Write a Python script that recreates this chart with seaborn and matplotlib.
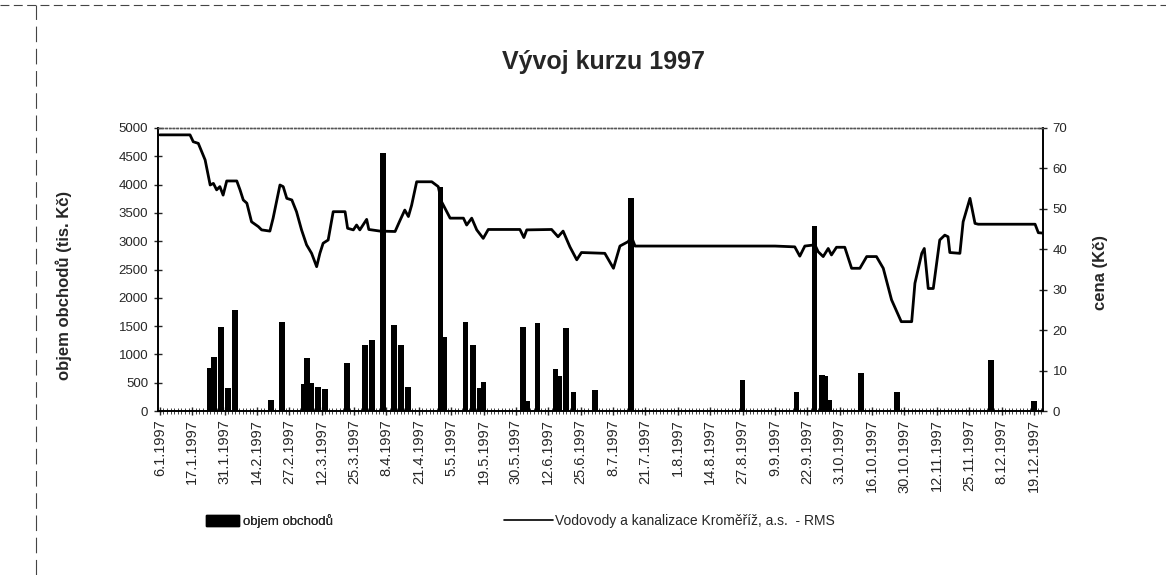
import numpy as np
import pandas as pd
import matplotlib
matplotlib.use("Agg")
import matplotlib.pyplot as plt
from matplotlib.lines import Line2D
from matplotlib.patches import Patch
import seaborn as sns

# x axis = trading days of 1997, every 9th day is labelled
date_labels = ["6.1.1997", "17.1.1997", "31.1.1997", "14.2.1997", "27.2.1997",
               "12.3.1997", "25.3.1997", "8.4.1997", "21.4.1997", "5.5.1997",
               "19.5.1997", "30.5.1997", "12.6.1997", "25.6.1997", "8.7.1997",
               "21.7.1997", "1.8.1997", "14.8.1997", "27.8.1997", "9.9.1997",
               "22.9.1997", "3.10.1997", "16.10.1997", "30.10.1997", "12.11.1997",
               "25.11.1997", "8.12.1997", "19.12.1997"]
label_step = 9
n_days = 246

# objem obchodu (tis. Kc), only days with a visible bar
bar_day = [14, 15, 17, 19, 21, 31, 34, 40, 41, 42, 44, 46, 52, 57, 59, 62, 65, 67, 69,
           78, 79, 85, 87, 89, 90, 101, 102, 105, 110, 111, 113, 115, 121, 131,
           162, 177, 182, 184, 185, 186, 195, 205, 231, 243]
bar_volume = [760, 960, 1490, 400, 1780, 200, 1580, 480, 930, 500, 420, 380, 850, 1170, 1250,
              4550, 1520, 1170, 430, 3950, 1310, 1580, 1170, 400, 520, 1490, 170, 1550,
              750, 610, 1460, 340, 370, 3760, 550, 340, 3260, 640, 610, 200, 670, 340,
              900, 170]

# cena (Kc), break points of the price line
price_day = [0, 8.4, 9.3, 10.7, 12.6, 14.0, 14.9, 15.8, 16.7, 17.6, 18.6, 21.4, 22.3, 23.2,
             24.2, 25.5, 27.4, 28.3, 30.6, 31.5, 33.4, 34.3, 35.3, 36.7, 38.0, 39.4, 40.8,
             42.2, 43.6, 44.5, 45.4, 46.8, 48.2, 51.5, 52.2, 53.8, 54.7, 55.6, 57.5, 58.1,
             61.2, 65.4, 66.8, 68.1, 69.1, 70.0, 71.4, 75.6, 77.4, 78.3, 79.3, 80.7, 84.4,
             85.3, 86.7, 88.1, 89.9, 91.3, 100.1, 101.2, 102.0, 108.9, 110.7, 112.1, 114.0,
             115.9, 117.2, 123.7, 126.1, 127.9, 130.2, 131.1, 132.1, 171.0, 176.5, 177.9,
             179.3, 182.1, 183.0, 184.4, 185.8, 186.7, 188.1, 190.4, 192.3, 194.6, 196.5,
             199.2, 201.1, 203.4, 206.1, 209.0, 209.9, 211.8, 212.5, 213.6, 215.0, 216.8,
             218.2, 219.1, 219.6, 222.4, 223.3, 225.2, 226.6, 227.5, 243.3, 244.2, 245.5]
price_czk = [68.3, 68.3, 66.6, 66.2, 62.1, 55.9, 56.3, 54.7, 55.5, 53.4, 56.9, 56.9, 54.7, 52.2,
             51.4, 46.8, 45.6, 44.8, 44.5, 47.7, 55.9, 55.5, 52.6, 52.2, 49.3, 44.8, 41.1,
             39.0, 35.7, 39.0, 41.5, 42.3, 49.3, 49.3, 45.2, 44.8, 46.0, 44.8, 47.4, 44.9,
             44.5, 44.4, 47.2, 49.7, 48.1, 50.9, 56.7, 56.7, 55.5, 51.8, 50.1, 47.7, 47.7,
             46.0, 47.7, 44.8, 42.7, 44.9, 44.9, 42.9, 44.8, 44.9, 43.1, 44.5, 40.6,
             37.4, 39.2, 39.0, 35.3, 40.8, 41.9, 43.1, 40.8, 40.8, 40.6, 38.3,
             40.8, 41.1, 39.4, 38.2, 40.2, 38.6, 40.5, 40.5, 35.3, 35.3, 38.2,
             38.2, 35.3, 27.5, 22.1, 22.1, 31.6, 39.0, 40.2, 30.3, 30.3, 42.3,
             43.5, 43.1, 39.2, 39.0, 46.8, 52.6, 46.4, 46.2, 46.2, 44.1, 44.0]

sns.set_theme(style="white")
plt.rcParams['font.family'] = ['Liberation Sans', 'DejaVu Sans']

fig = plt.figure(figsize=(11.66, 5.75), dpi=100)
ax = fig.add_axes([158 / 1166, 1 - 411 / 575, 885 / 1166, 283 / 575])

bars_df = pd.DataFrame({'den': bar_day, 'objem': bar_volume})
sns.barplot(data=bars_df, x='den', y='objem', native_scale=True, color='black',
            saturation=1, width=1.6, linewidth=0, errorbar=None, ax=ax)

ax2 = ax.twinx()
price_df = pd.DataFrame({'den': price_day, 'cena': price_czk})
sns.lineplot(data=price_df, x='den', y='cena', color='black', linewidth=2, ax=ax2)

ax.set_xlim(-0.5, n_days - 0.5)
ax.set_ylim(0, 5000)
ax2.set_ylim(0, 70)

ax.set_xticks(np.arange(len(date_labels)) * label_step)
ax.set_xticklabels(date_labels, rotation=90, fontsize=10.5)
ax.set_xticks(np.arange(n_days), minor=True)
ax.set_yticks(np.arange(0, 5001, 500))
ax.tick_params(axis='y', labelsize=9.5, direction='inout', length=6, width=1, left=True, pad=4)
ax.tick_params(axis='x', which='major', direction='inout', length=6, width=1, bottom=True, pad=3)
ax.tick_params(axis='x', which='minor', direction='inout', length=4, width=0.6, bottom=True)
ax2.set_yticks(np.arange(0, 71, 10))
ax2.tick_params(axis='y', labelsize=9.5, direction='inout', length=6, width=1, right=True, pad=4)

ax.set_xlabel('')
ax.set_ylabel('')
ax2.set_xlabel('')
ax2.set_ylabel('')

for a in (ax, ax2):
    for side in ('left', 'right', 'bottom'):
        a.spines[side].set_color('black')
        a.spines[side].set_linewidth(1.2)
    a.spines['top'].set_color('#555555')
    a.spines['top'].set_linestyle(':')
    a.spines['top'].set_linewidth(1)

fig.text(603 / 1166, 1 - 62 / 575, 'Vývoj kurzu 1997', ha='center', va='center',
         fontsize=18, fontweight='bold')
fig.text(64 / 1166, 1 - 285 / 575, 'objem obchodů (tis. Kč)', rotation=90, ha='center',
         va='center', fontsize=12, fontweight='bold')
fig.text(1100 / 1166, 1 - 272 / 575, 'cena (Kč)', rotation=90, ha='center',
         va='center', fontsize=12, fontweight='bold')

leg1 = fig.legend([Patch(facecolor='black', edgecolor='black')], ['objem obchodů'],
                  loc='center left', bbox_to_anchor=(206 / 1166, 1 - 521 / 575),
                  frameon=False, fontsize=9.5, handlelength=2.5, handleheight=1.0,
                  handletextpad=0.3, borderpad=0, borderaxespad=0)
leg2 = fig.legend([Line2D([0], [0], color='black', linewidth=1.2)],
                  ['Vodovody a kanalizace Kroměříž, a.s.  - RMS'],
                  loc='center left', bbox_to_anchor=(504 / 1166, 1 - 521 / 575),
                  frameon=False, fontsize=10, handlelength=3.5, handletextpad=0.2,
                  borderpad=0, borderaxespad=0)
fig.add_artist(leg1)

# dashed frame of the scanned page
fig.add_artist(Line2D([0, 1], [1 - 5 / 575, 1 - 5 / 575], color='#444444',
                      linewidth=0.8, linestyle=(0, (8, 4))))
fig.add_artist(Line2D([36 / 1166, 36 / 1166], [0, 1 - 5 / 575], color='#444444',
                      linewidth=0.8, linestyle=(0, (14, 6))))

fig.savefig('out.png', dpi=100, facecolor='white')
